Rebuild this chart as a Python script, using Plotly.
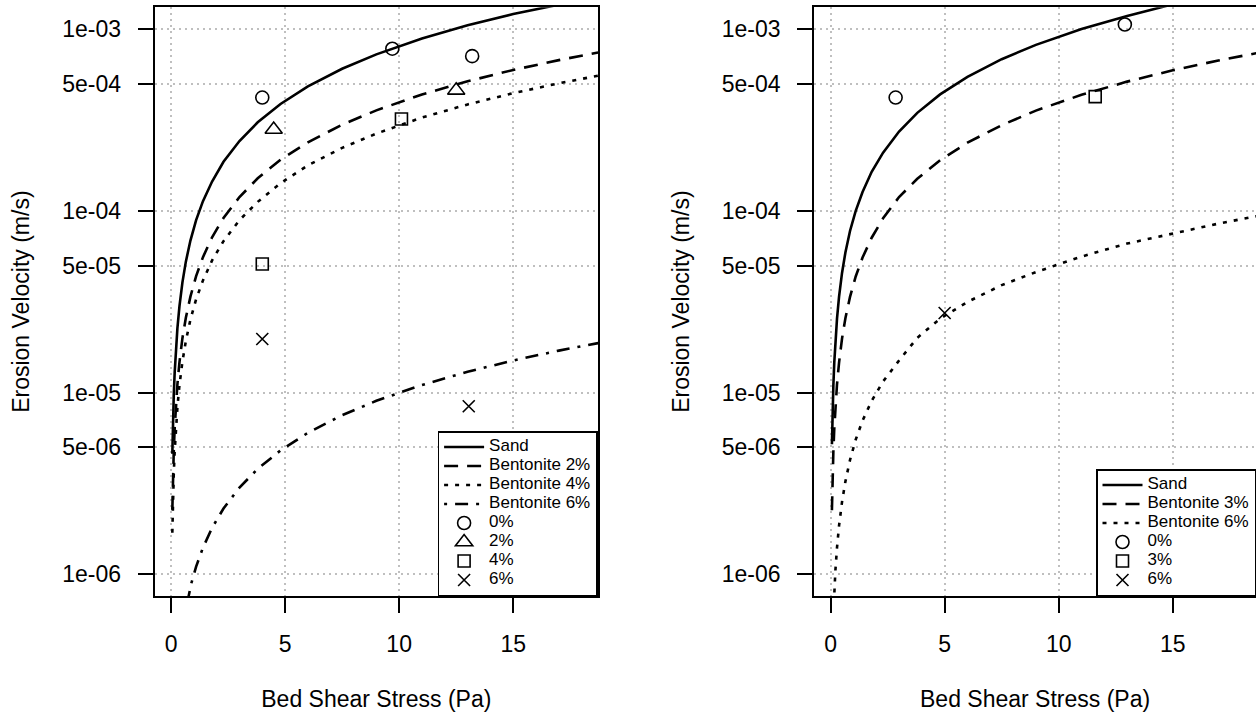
import plotly.graph_objects as go

# ---------------- data ----------------
# common x positions (Pa) at which the fitted curves were read
CURVE_X = [0.057, 0.07, 0.09, 0.12, 0.16, 0.21, 0.28, 0.37, 0.5, 0.65, 0.85, 1.1,
           1.4, 1.8, 2.3, 3.0, 3.8, 4.8, 6.0, 7.5, 9.0, 11.0, 13.0, 15.0, 17.0, 18.72]

# left panel curves (m/s)
L_SAND_Y = [4.6e-6, 5.65e-6, 7.26e-6, 9.68e-6, 1.29e-5, 1.69e-5, 2.26e-5, 2.99e-5, 4.04e-5,
            5.25e-5, 6.86e-5, 8.88e-5, 1.13e-4, 1.45e-4, 1.86e-4, 2.42e-4, 3.07e-4, 3.87e-4,
            4.84e-4, 6.05e-4, 7.26e-4, 8.88e-4, 1.05e-3, 1.21e-3, 1.37e-3, 1.51e-3]
L_B2_Y = [2.26e-6, 2.78e-6, 3.57e-6, 4.76e-6, 6.35e-6, 8.34e-6, 1.11e-5, 1.47e-5, 1.99e-5,
          2.58e-5, 3.37e-5, 4.37e-5, 5.56e-5, 7.15e-5, 9.13e-5, 1.19e-4, 1.51e-4, 1.91e-4,
          2.38e-4, 2.98e-4, 3.57e-4, 4.37e-4, 5.16e-4, 5.96e-4, 6.75e-4, 7.43e-4]
L_B4_Y = [1.69e-6, 2.07e-6, 2.66e-6, 3.55e-6, 4.74e-6, 6.22e-6, 8.29e-6, 1.10e-5, 1.48e-5,
          1.92e-5, 2.52e-5, 3.26e-5, 4.14e-5, 5.33e-5, 6.81e-5, 8.88e-5, 1.12e-4, 1.42e-4,
          1.78e-4, 2.22e-4, 2.66e-4, 3.26e-4, 3.85e-4, 4.44e-4, 5.03e-4, 5.54e-4]
L_B6_X = [0.6, 0.75, 0.9, 1.1, 1.4, 1.8, 2.3, 3.0, 3.8, 4.8, 6.0, 7.5, 9.0, 11.0, 13.0,
          15.0, 17.0, 18.72]
L_B6_Y = [6.0e-7, 7.5e-7, 9.0e-7, 1.1e-6, 1.4e-6, 1.8e-6, 2.3e-6, 3.0e-6, 3.8e-6, 4.8e-6,
          6.0e-6, 7.5e-6, 9.0e-6, 1.1e-5, 1.3e-5, 1.5e-5, 1.7e-5, 1.87e-5]

# left panel measurements
L_P0_X = [4.0, 9.7, 13.2]
L_P0_Y = [4.2e-4, 7.8e-4, 7.1e-4]
L_P2_X = [4.5, 12.5]
L_P2_Y = [2.8e-4, 4.6e-4]
L_P4_X = [4.0, 10.1]
L_P4_Y = [5.1e-5, 3.2e-4]
L_P6_X = [4.0, 13.05]
L_P6_Y = [1.97e-5, 8.4e-6]

# right panel curves (m/s)
R_SAND_Y = [5.19e-6, 6.37e-6, 8.19e-6, 1.09e-5, 1.46e-5, 1.91e-5, 2.55e-5, 3.37e-5, 4.55e-5,
            5.92e-5, 7.74e-5, 1.0e-4, 1.27e-4, 1.64e-4, 2.09e-4, 2.73e-4, 3.46e-4, 4.37e-4,
            5.46e-4, 6.83e-4, 8.19e-4, 1.0e-3, 1.18e-3, 1.37e-3, 1.55e-3, 1.70e-3]
R_B3_Y = [2.25e-6, 2.77e-6, 3.56e-6, 4.74e-6, 6.32e-6, 8.3e-6, 1.11e-5, 1.46e-5, 1.98e-5,
          2.57e-5, 3.36e-5, 4.35e-5, 5.53e-5, 7.11e-5, 9.09e-5, 1.19e-4, 1.5e-4, 1.9e-4,
          2.37e-4, 2.96e-4, 3.56e-4, 4.35e-4, 5.14e-4, 5.93e-4, 6.72e-4, 7.39e-4]
R_B6_X = [0.12, 0.16, 0.21, 0.28, 0.37, 0.5, 0.65, 0.85, 1.1, 1.4, 1.8, 2.3, 3.0, 3.8, 4.8,
          6.0, 7.5, 9.0, 11.0, 13.0, 15.0, 17.0, 18.72]
R_B6_Y = [6.0e-7, 8.0e-7, 1.05e-6, 1.4e-6, 1.85e-6, 2.5e-6, 3.25e-6, 4.25e-6, 5.5e-6, 7.0e-6,
          9.0e-6, 1.15e-5, 1.5e-5, 2.0e-5, 2.55e-5, 3.15e-5, 3.9e-5, 4.6e-5, 5.6e-5, 6.6e-5,
          7.5e-5, 8.5e-5, 9.36e-5]

# right panel measurements
R_P0_X = [2.85, 12.9]
R_P0_Y = [4.2e-4, 1.06e-3]
R_P3_X = [11.6]
R_P3_Y = [4.25e-4]
R_P6_X = [5.0]
R_P6_Y = [2.74e-5]

X_TICKS = [0, 5, 10, 15]
Y_TICKS = [1e-6, 5e-6, 1e-5, 5e-5, 1e-4, 5e-4, 1e-3]
Y_TICKTEXT = ["1e-06", "5e-06", "1e-05", "5e-05", "1e-04", "5e-04", "1e-03"]

LEFT_NAMES = ["Sand", "Bentonite 2%", "Bentonite 4%", "Bentonite 6%", "0%", "2%", "4%", "6%"]
RIGHT_NAMES = ["Sand", "Bentonite 3%", "Bentonite 6%", "0%", "3%", "6%"]

# ---------------- styling ----------------
FONT = "Liberation Sans, Arial, Helvetica, sans-serif"
W, H = 1256, 717
LW = 2.6
DASH = "14px,9px"
DOT = "4px,7px"
DASHDOT = "3px,8px,13px,8px"
LEG_TXT = '<span style="font-size:17px">{}</span>'
GRID = dict(showgrid=True, gridcolor="#bfbfbf", griddash="2px,4px", gridwidth=1.6)

fig = go.Figure()


def line(x, y, name, dash, xa, ya, leg):
    fig.add_trace(go.Scatter(x=x, y=y, name=LEG_TXT.format(name), mode="lines",
                             line=dict(color="black", width=LW, dash=dash),
                             xaxis=xa, yaxis=ya, legend=leg, hoverinfo="x+y"))


def pts(x, y, name, symbol, size, xa, ya, leg):
    fig.add_trace(go.Scatter(x=x, y=y, name=LEG_TXT.format(name), mode="markers",
                             marker=dict(symbol=symbol, size=size, color="black",
                                         line=dict(color="black", width=1.6)),
                             xaxis=xa, yaxis=ya, legend=leg, cliponaxis=False,
                             hoverinfo="x+y"))


# left panel
line(CURVE_X, L_SAND_Y, LEFT_NAMES[0], "solid", "x", "y", "legend")
line(CURVE_X, L_B2_Y, LEFT_NAMES[1], DASH, "x", "y", "legend")
line(CURVE_X, L_B4_Y, LEFT_NAMES[2], DOT, "x", "y", "legend")
line(L_B6_X, L_B6_Y, LEFT_NAMES[3], DASHDOT, "x", "y", "legend")
pts(L_P0_X, L_P0_Y, LEFT_NAMES[4], "circle-open", 13, "x", "y", "legend")
pts(L_P2_X, L_P2_Y, LEFT_NAMES[5], "triangle-up-open", 15, "x", "y", "legend")
pts(L_P4_X, L_P4_Y, LEFT_NAMES[6], "square-open", 12, "x", "y", "legend")
pts(L_P6_X, L_P6_Y, LEFT_NAMES[7], "x-thin-open", 12, "x", "y", "legend")

# right panel
line(CURVE_X, R_SAND_Y, RIGHT_NAMES[0], "solid", "x2", "y2", "legend2")
line(CURVE_X, R_B3_Y, RIGHT_NAMES[1], DASH, "x2", "y2", "legend2")
line(R_B6_X, R_B6_Y, RIGHT_NAMES[2], DOT, "x2", "y2", "legend2")
pts(R_P0_X, R_P0_Y, RIGHT_NAMES[3], "circle-open", 13, "x2", "y2", "legend2")
pts(R_P3_X, R_P3_Y, RIGHT_NAMES[4], "square-open", 12, "x2", "y2", "legend2")
pts(R_P6_X, R_P6_Y, RIGHT_NAMES[5], "x-thin-open", 12, "x2", "y2", "legend2")

# pixel geometry of the two plotting boxes
Y_DOM = [1 - 596 / H, 1 - 7.3 / H]
L_DOM = [154.6 / W, 598.1 / W]
R_DOM = [814.2 / W, 1.0]

common_x = dict(
    tickmode="array", tickvals=X_TICKS, ticks="outside", ticklen=15, tickwidth=2,
    tickcolor="black", showline=True, linecolor="black", linewidth=2, mirror=True,
    zeroline=False, **GRID,
    tickfont=dict(family=FONT, size=23, color="black"), ticklabelstandoff=11,
    title=dict(text="Bed Shear Stress (Pa)", font=dict(family=FONT, size=23, color="black"),
               standoff=35),
    automargin=False,
)
common_y = dict(
    type="log", range=[-6.12, -2.88], domain=Y_DOM,
    tickmode="array", tickvals=Y_TICKS, ticktext=Y_TICKTEXT, ticks="outside", ticklen=15,
    tickwidth=2, tickcolor="black", showline=True, linecolor="black", linewidth=2,
    zeroline=False, **GRID,
    tickfont=dict(family=FONT, size=23, color="black"), ticklabelstandoff=12,
    title=dict(text="Erosion Velocity (m/s)", font=dict(family=FONT, size=23, color="black"),
               standoff=26),
    automargin=False,
)

legend_common = dict(
    bgcolor="white", bordercolor="black", borderwidth=1.5,
    font=dict(family=FONT, size=10, color="black"),
    itemwidth=40, tracegroupgap=0, yanchor="bottom", y=Y_DOM[0], xanchor="right",
    traceorder="normal", itemclick=False, itemdoubleclick=False,
)

fig.update_layout(
    width=W, height=H,
    margin=dict(l=0, r=0, t=0, b=0),
    paper_bgcolor="white", plot_bgcolor="white",
    font=dict(family=FONT, color="black"),
    showlegend=True,
    xaxis=dict(domain=L_DOM, range=[-0.72, 18.72], anchor="y", **common_x),
    yaxis=dict(anchor="x", mirror=True, **common_y),
    xaxis2=dict(domain=R_DOM, range=[-0.72, 18.65], anchor="y2", **common_x),
    yaxis2=dict(anchor="x2", mirror=False, **common_y),
    legend=dict(x=597.6 / W, **legend_common),
    legend2=dict(x=1.0, **legend_common),
)

fig.write_html("out.html",
               config={"displayModeBar": False},
               post_script="document.body.style.margin='0px';"
                           "document.body.style.overflow='hidden';")
